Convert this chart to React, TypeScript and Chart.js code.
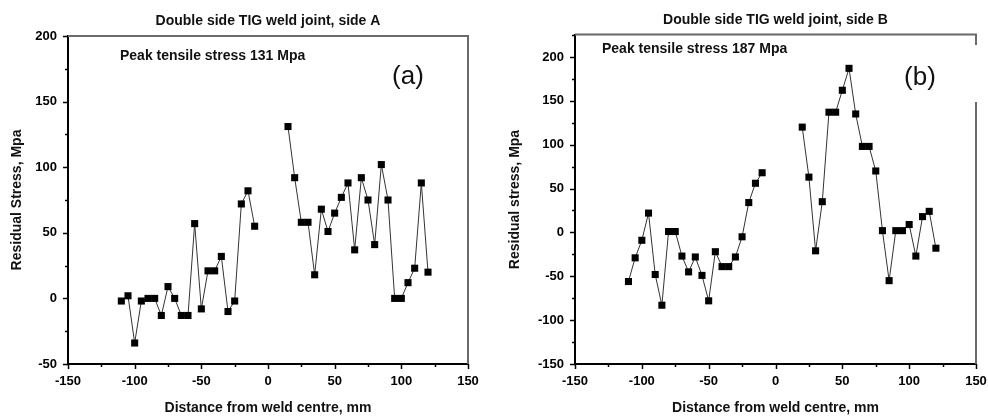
import React, { useEffect, useRef } from 'react';
import { Chart, registerables } from 'chart.js';

Chart.register(...registerables);

const FONT = "'Liberation Sans', Arial, Helvetica, sans-serif";

// ---- Side A data ----
const distanceA1 = [-110, -105, -100, -95, -90, -85, -80, -75, -70, -65, -60, -55, -50, -45, -40, -35, -30, -25, -20, -15, -10];
const stressA1 = [-2, 2, -34, -2, 0, 0, -13, 9, 0, -13, -13, 57, -8, 21, 21, 32, -10, -2, 72, 82, 55];
const distanceA2 = [15, 20, 25, 30, 35, 40, 45, 50, 55, 60, 65, 70, 75, 80, 85, 90, 95, 100, 105, 110, 115, 120];
const stressA2 = [131, 92, 58, 58, 18, 68, 51, 65, 77, 88, 37, 92, 75, 41, 102, 75, 0, 0, 12, 23, 88, 20];

// ---- Side B data ----
const distanceB1 = [-110, -105, -100, -95, -90, -85, -80, -75, -70, -65, -60, -55, -50, -45, -40, -35, -30, -25, -20, -15, -10];
const stressB1 = [-56, -29, -9, 22, -48, -83, 1, 1, -27, -45, -28, -49, -78, -22, -39, -39, -28, -5, 34, 56, 68];
const distanceB2 = [20, 25, 30, 35, 40, 45, 50, 55, 60, 65, 70, 75, 80, 85, 90, 95, 100, 105, 110, 115, 120];
const stressB2 = [120, 63, -21, 35, 137, 137, 162, 187, 135, 98, 98, 70, 2, -55, 2, 2, 9, -27, 18, 24, -18];

// ---- Axes ----
const xRange = [-150, 150];
const xTickLabels = [-150, -100, -50, 0, 50, 100, 150];
const yRangeA = [-50, 200];
const yTickLabelsA = [-50, 0, 50, 100, 150, 200];
const yRangeB = [-150, 225];
const yTickLabelsB = [-150, -100, -50, 0, 50, 100, 150, 200];
const MINOR_STEP = 25;

const titleA = 'Double side TIG weld joint, side A';
const titleB = 'Double side TIG weld joint, side B';
const yTitleA = 'Residual Stress, Mpa';
const yTitleB = 'Residual stress, Mpa';
const xTitle = 'Distance from weld centre, mm';
const peakA = 'Peak tensile stress 131 Mpa';
const peakB = 'Peak tensile stress 187 Mpa';
const tagA = '(a)';
const tagB = '(b)';

type Spec = {
  title: string;
  yTitle: string;
  yRange: number[];
  yLabels: number[];
  series: { x: number[]; y: number[] }[];
  peak: string;
  tag: string;
  yAxisWidth: number;
  yTitlePad: number;
  rightPad: number;
  titlePadTop: number;
  titlePadBottom: number;
  frame: 'A' | 'B';
  peakPos: [number, number];
  tagPos: [number, number];
};

const pts = (xs: number[], ys: number[]) => xs.map((x, i) => ({ x, y: ys[i] }));

const decorPlugin = {
  id: 'decor',
  afterDraw(chart: any) {
    const spec: Spec = chart.options.plugins.decor.spec;
    const { ctx, chartArea } = chart;
    const { left, right, top, bottom } = chartArea;
    const xs = chart.scales.x;
    const ys = chart.scales.y;
    ctx.save();
    // tick marks (major + minor)
    ctx.strokeStyle = '#000';
    ctx.lineWidth = 1.5;
    ctx.beginPath();
    for (let v = xs.min; v <= xs.max + 0.001; v += MINOR_STEP) {
      const p = Math.round(xs.getPixelForValue(v)) + 0.5;
      const len = v % 50 === 0 ? 5 : 3;
      ctx.moveTo(p, bottom);
      ctx.lineTo(p, bottom + len);
    }
    for (let v = ys.min; v <= ys.max + 0.001; v += MINOR_STEP) {
      const p = Math.round(ys.getPixelForValue(v)) + 0.5;
      const len = v % 50 === 0 ? 5 : 3;
      ctx.moveTo(left, p);
      ctx.lineTo(left - len, p);
    }
    ctx.stroke();
    // frame (top and right)
    ctx.strokeStyle = '#6a6a6a';
    ctx.lineWidth = 2;
    ctx.beginPath();
    if (spec.frame === 'A') {
      ctx.moveTo(left, top);
      ctx.lineTo(right, top);
      ctx.lineTo(right, bottom);
    } else {
      ctx.moveTo(left, top - 0.5);
      ctx.lineTo(right, top - 0.5);
      ctx.lineTo(right, top + 10);
      ctx.moveTo(right, top + 67);
      ctx.lineTo(right, bottom);
    }
    ctx.stroke();
    // annotations
    ctx.fillStyle = '#111';
    ctx.textBaseline = 'middle';
    ctx.textAlign = 'left';
    ctx.font = `bold 14px ${FONT}`;
    ctx.fillText(spec.peak, spec.peakPos[0], spec.peakPos[1]);
    ctx.textAlign = 'center';
    ctx.font = `26px ${FONT}`;
    ctx.fillText(spec.tag, spec.tagPos[0], spec.tagPos[1]);
    ctx.restore();
  },
};

function makeConfig(spec: Spec): any {
  return {
    type: 'line',
    data: {
      datasets: spec.series.map((s) => ({
        data: pts(s.x, s.y),
        borderColor: '#333',
        borderWidth: 1,
        pointStyle: 'rect',
        pointRadius: 5,
        pointBorderWidth: 0,
        pointBackgroundColor: '#000',
        pointBorderColor: '#000',
        fill: false,
        tension: 0,
      })),
    },
    options: {
      animation: false,
      responsive: false,
      devicePixelRatio: 1,
      layout: { padding: { left: 0, right: spec.rightPad, top: 0, bottom: 0 } },
      plugins: {
        legend: { display: false },
        tooltip: { enabled: false },
        title: {
          display: true,
          text: spec.title,
          fullSize: false,
          color: '#111',
          font: { family: FONT, size: 14, weight: 'bold' },
          padding: { top: spec.titlePadTop, bottom: spec.titlePadBottom },
        },
        decor: { spec },
      },
      scales: {
        x: {
          type: 'linear',
          min: xRange[0],
          max: xRange[1],
          afterFit: (s: any) => {
            s.height = 53;
            s.paddingRight = 0;
            s.paddingLeft = 0;
          },
          grid: { display: false, drawTicks: false },
          border: { display: true, color: '#000', width: 2 },
          ticks: {
            stepSize: MINOR_STEP,
            autoSkip: false,
            maxRotation: 0,
            padding: 10,
            color: '#000',
            font: { family: FONT, size: 13, weight: 'bold' },
            callback: (v: number) => (xTickLabels.includes(v) ? String(v) : ''),
          },
          title: {
            display: true,
            text: xTitle,
            color: '#111',
            font: { family: FONT, size: 14, weight: 'bold' },
            padding: { top: 0, bottom: 0 },
          },
        },
        y: {
          type: 'linear',
          min: spec.yRange[0],
          max: spec.yRange[1],
          afterFit: (s: any) => {
            s.width = spec.yAxisWidth;
          },
          grid: { display: false, drawTicks: false },
          border: { display: true, color: '#000', width: 2 },
          ticks: {
            stepSize: MINOR_STEP,
            autoSkip: false,
            padding: 11,
            color: '#000',
            font: { family: FONT, size: 13, weight: 'bold' },
            callback: (v: number) => (spec.yLabels.includes(v) ? String(v) : ''),
          },
          title: {
            display: true,
            text: spec.yTitle,
            color: '#111',
            font: { family: FONT, size: 14, weight: 'bold' },
            padding: { top: spec.yTitlePad, bottom: 0 },
          },
        },
      },
    },
    plugins: [decorPlugin],
  };
}

const specA: Spec = {
  title: titleA,
  yTitle: yTitleA,
  yRange: yRangeA,
  yLabels: yTickLabelsA,
  series: [
    { x: distanceA1, y: stressA1 },
    { x: distanceA2, y: stressA2 },
  ],
  peak: peakA,
  tag: tagA,
  yAxisWidth: 68,
  yTitlePad: 9,
  rightPad: 26,
  titlePadTop: 13,
  titlePadBottom: 6.2,
  frame: 'A',
  peakPos: [120, 56],
  tagPos: [408, 77],
};

const specB: Spec = {
  title: titleB,
  yTitle: yTitleB,
  yRange: yRangeB,
  yLabels: yTickLabelsB,
  series: [
    { x: distanceB1, y: stressB1 },
    { x: distanceB2, y: stressB2 },
  ],
  peak: peakB,
  tag: tagB,
  yAxisWidth: 81,
  yTitlePad: 12.6,
  rightPad: 12,
  titlePadTop: 12,
  titlePadBottom: 6.2,
  frame: 'B',
  peakPos: [108, 49],
  tagPos: [426, 78],
};

function ChartPanel({ spec, left }: { spec: Spec; left: number }) {
  const ref = useRef<HTMLCanvasElement | null>(null);
  useEffect(() => {
    if (!ref.current) return;
    const chart = new Chart(ref.current, makeConfig(spec));
    return () => chart.destroy();
  }, [spec]);
  return (
    <canvas
      ref={ref}
      width={494}
      height={417}
      style={{ position: 'absolute', left, top: 0, width: 494, height: 417, display: 'block' }}
    />
  );
}

export default function App() {
  return (
    <div style={{ position: 'absolute', left: 0, top: 0, width: 988, height: 417, background: '#fff', overflow: 'hidden' }}>
      <ChartPanel spec={specA} left={0} />
      <ChartPanel spec={specB} left={494} />
    </div>
  );
}
